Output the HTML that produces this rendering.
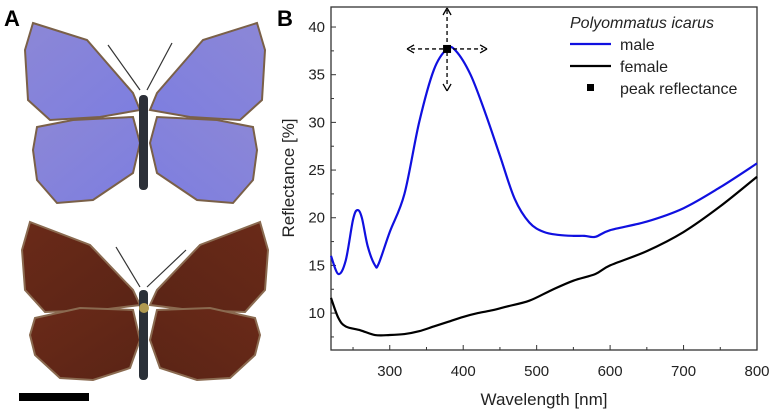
<!DOCTYPE html>
<html><head><meta charset="utf-8"><style>
body{margin:0;background:#fff;width:777px;height:416px;overflow:hidden;font-family:"Liberation Sans",sans-serif}
svg{position:absolute;left:0;top:0}
</style></head><body>
<svg width="777" height="416" viewBox="0 0 777 416">
<defs>
<linearGradient id="bl" x1="0" y1="0" x2="1" y2="1"><stop offset="0" stop-color="#8c87d6"/><stop offset="1" stop-color="#7d7ee0"/></linearGradient>
<linearGradient id="br" x1="0" y1="0" x2="1" y2="1"><stop offset="0" stop-color="#6a2a18"/><stop offset="1" stop-color="#5a2416"/></linearGradient>
</defs>
<text x="4" y="26" font-size="22" font-weight="bold">A</text>
<g>
<g id="mw" stroke="#7a6048" stroke-width="2">
<polygon points="33,23 87,40 133,93 140,110 100,117 50,120 28,100 25,50" fill="url(#bl)"/>
<polygon points="37,127 73,120 133,117 140,143 133,173 93,200 57,203 37,180 33,150" fill="url(#bl)"/>
</g>
<use href="#mw" transform="translate(290,0) scale(-1,1)"/>
<rect x="139" y="95" width="9" height="95" rx="4" fill="#2c3038"/>
<line x1="140" y1="90" x2="108" y2="45" stroke="#333" stroke-width="1.2"/>
<line x1="147" y1="90" x2="172" y2="43" stroke="#333" stroke-width="1.2"/>
</g>
<g>
<g id="fw" stroke="#8a6a50" stroke-width="2">
<polygon points="30,222 90,245 133,290 140,305 100,310 45,312 25,290 22,250" fill="url(#br)"/>
<polygon points="35,318 80,308 133,310 140,340 130,368 93,380 60,378 35,355 30,335" fill="url(#br)"/>
</g>
<use href="#fw" transform="translate(290,0) scale(-1,1)"/>
<rect x="139" y="290" width="9" height="90" rx="4" fill="#2a3038"/>
<circle cx="144" cy="308" r="5" fill="#b09a50"/>
<line x1="140" y1="287" x2="116" y2="247" stroke="#333" stroke-width="1.2"/>
<line x1="147" y1="287" x2="186" y2="250" stroke="#333" stroke-width="1.2"/>
</g>
<rect x="19" y="393" width="70" height="8" fill="#000"/>
<text x="277" y="26" font-size="22" font-weight="bold">B</text>
<g id="chart"></g>
</svg>
<script>
const maleX=[220,230,240,250,256,262,270,280,285,300,320,340,360,378,390,410,430,450,470,490,510,530,550,565,580,600,650,700,750,800];
const maleY=[16,14.1,15.5,19.8,20.8,20,17,15,15.2,18.5,22.5,30,35.5,37.7,37.5,35,31,26.5,22,19.5,18.5,18.2,18.1,18.1,18,18.7,19.6,21,23.2,25.7];
const femaleX=[220,230,240,260,280,300,320,340,360,380,400,420,440,460,490,520,550,580,600,650,700,750,800];
const femaleY=[11.6,9.5,8.6,8.2,7.7,7.7,7.8,8.1,8.6,9.1,9.6,10,10.3,10.7,11.3,12.4,13.4,14.1,15,16.5,18.5,21.2,24.3];
const peakX=[378];const peakY=[37.7];
const xTicks=[300,400,500,600,700,800];
const yTicks=[10,15,20,25,30,35,40];
const X0=331,X1=757,Y0=350,Y1=7,XMIN=220,XMAX=800,YMIN=6.13,YMAX=42.1;
const sx=v=>X0+(v-XMIN)/(XMAX-XMIN)*(X1-X0);
const sy=v=>Y0-(v-YMIN)/(YMAX-YMIN)*(Y0-Y1);
const NS='http://www.w3.org/2000/svg',g=document.getElementById('chart');
function mk(t,a,p){const e=document.createElementNS(NS,t);for(const k in a)e.setAttribute(k,a[k]);(p||g).appendChild(e);return e;}
function path(xs,ys){const p=xs.map((x,i)=>[sx(x),sy(ys[i])]);let d='M'+p[0].join(',');
for(let i=0;i<p.length-1;i++){const a=p[i-1]||p[i],b=p[i],c=p[i+1],e=p[i+2]||c;
d+=` C${b[0]+(c[0]-a[0])/6},${b[1]+(c[1]-a[1])/6} ${c[0]-(e[0]-b[0])/6},${c[1]-(e[1]-b[1])/6} ${c[0]},${c[1]}`;}return d;}
let e=mk('rect',{x:X0,y:Y1,width:X1-X0,height:Y0-Y1,fill:'none',stroke:'#333','stroke-width':1.3});

xTicks.forEach(t=>{mk('line',{x1:sx(t),x2:sx(t),y1:Y0,y2:Y0-5,stroke:'#333'});mk('line',{x1:sx(t-50),x2:sx(t-50),y1:Y0,y2:Y0-3,stroke:'#333'});
const l=mk('text',{x:sx(t),y:Y0+26,'font-size':15,'text-anchor':'middle',fill:'#222'});l.textContent=t;
});
yTicks.forEach(t=>{mk('line',{x1:X0,x2:X0+5,y1:sy(t),y2:sy(t),stroke:'#333'});if(sy(t-2.5)<Y0)mk('line',{x1:X0,x2:X0+3,y1:sy(t-2.5),y2:sy(t-2.5),stroke:'#333'});
const l=mk('text',{x:X0-6,y:sy(t)+5,'font-size':15,'text-anchor':'end',fill:'#222'});l.textContent=t;
});
e=mk('text',{x:544,y:405,'font-size':17,'text-anchor':'middle',fill:'#222'});e.textContent='Wavelength [nm]';

e=mk('text',{x:0,y:0,'font-size':17,'text-anchor':'middle',fill:'#222',transform:'translate(294,178) rotate(-90)'});e.textContent='Reflectance [%]';

e=mk('path',{d:path(femaleX,femaleY),fill:'none',stroke:'#000','stroke-width':2.2});

e=mk('path',{d:path(maleX,maleY),fill:'none',stroke:'#1010e0','stroke-width':2.2});

const px=sx(peakX[0]),py=sy(peakY[0]);
mk('line',{x1:px-36,x2:px+36,y1:py,y2:py,stroke:'#000','stroke-dasharray':'4,3','stroke-width':1.3});
mk('line',{x1:px,x2:px,y1:Y1+3,y2:py+38,stroke:'#000','stroke-dasharray':'4,3','stroke-width':1.3});
mk('path',{d:`M${px-40},${py} l7,-4 M${px-40},${py} l7,4 M${px+40},${py} l-7,-4 M${px+40},${py} l-7,4 M${px},${Y1+1} l-4,7 M${px},${Y1+1} l4,7 M${px},${py+42} l-4,-7 M${px},${py+42} l4,-7`,stroke:'#000','stroke-width':1.3,fill:'none'});
e=mk('rect',{x:px-4,y:py-4,width:8,height:8,fill:'#000'});

const lg=mk('g',{});
e=mk('text',{x:570,y:28,'font-size':16,'font-style':'italic',fill:'#222'},lg);e.textContent='Polyommatus icarus';
mk('line',{x1:570,x2:611,y1:44,y2:44,stroke:'#1010e0','stroke-width':2.2},lg);
e=mk('text',{x:620,y:50,'font-size':16,fill:'#222'},lg);e.textContent='male';
mk('line',{x1:570,x2:611,y1:66,y2:66,stroke:'#000','stroke-width':2.2},lg);
e=mk('text',{x:620,y:72,'font-size':16,fill:'#222'},lg);e.textContent='female';
mk('rect',{x:587,y:84,width:7,height:7,fill:'#000'},lg);
e=mk('text',{x:620,y:94,'font-size':16,fill:'#222'},lg);e.textContent='peak reflectance';
</script>
</body></html>
